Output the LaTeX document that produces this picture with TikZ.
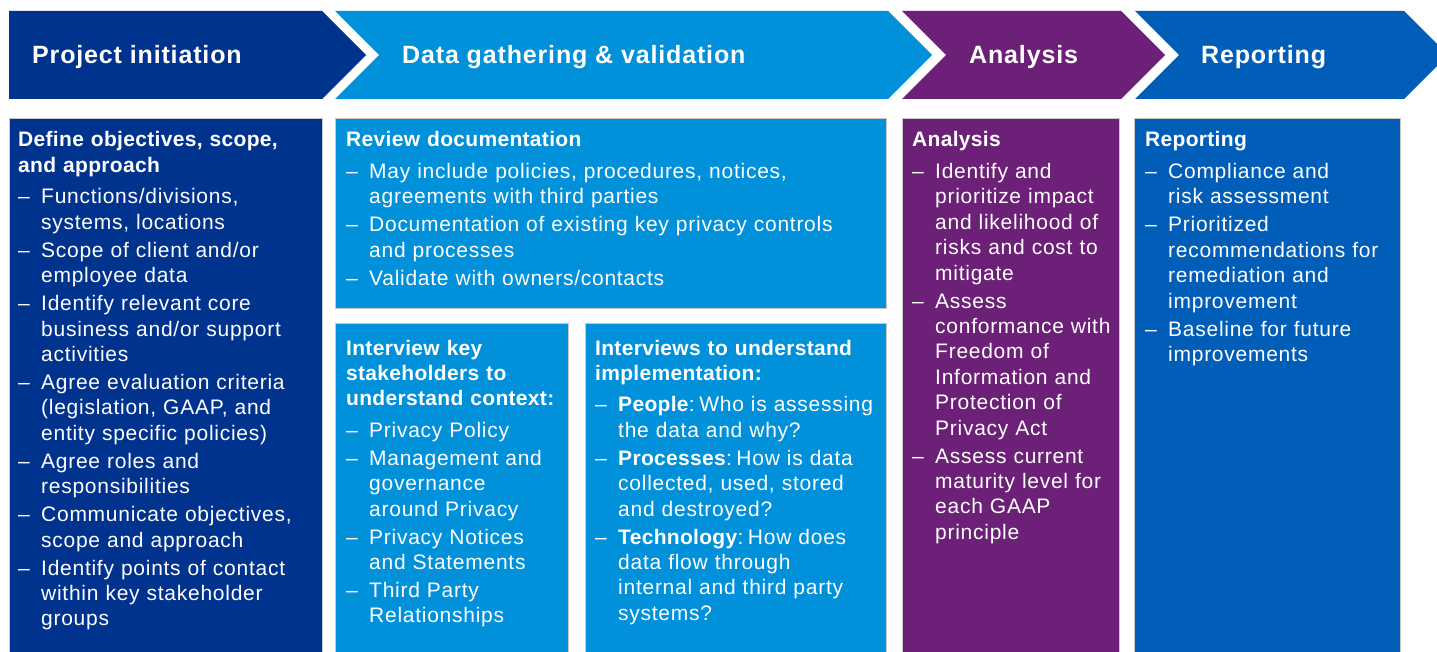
\documentclass[tikz,border=0pt]{standalone}
\usepackage{fontspec}
\setmainfont{Liberation Sans}[LetterSpace=3.5,BoldFeatures={LetterSpace=1.5}]
\newfontfamily\hdfont{Liberation Sans}[LetterSpace=3,BoldFeatures={LetterSpace=3.4}]
\definecolor{navy}{HTML}{00338D}
\definecolor{cyanb}{HTML}{0091DA}
\definecolor{purp}{HTML}{6D2077}
\definecolor{rblue}{HTML}{005EB8}
\newcommand{\nl}{\hfil\break}
\newcommand{\ttl}[1]{\noindent\textbf{#1}\par\vspace{3.5pt}}
\newcommand{\itm}[1]{\par\vspace{2.6pt}\noindent\hangindent=23pt\hangafter=1\makebox[23pt][l]{–}#1}
\newcommand{\lead}[1]{\textbf{#1}:\kern-2.5pt\ }
\tikzset{
  panel/.style={draw=black!22,line width=0.6pt},
  hdr/.style={anchor=base west,inner sep=0pt,text=white,font=\hdfont\bfseries\fontsize{25}{30}\selectfont},
  body/.style={anchor=base west,inner sep=0pt,text=white,text width=#1,
    font=\fontsize{21}{25.4}\selectfont},
}
\begin{document}
\begin{tikzpicture}[x=1pt,y=-1pt]
\useasboundingbox (0,0) rectangle (1437,652);
\fill[white] (0,0) rectangle (1437,652);
\begin{scope}
\clip (0,0) rectangle (1437,652);
% chevrons
\fill[navy]  (9,11) -- (322,11) -- (366,55) -- (322,99) -- (9,99) -- cycle;
\fill[cyanb] (335,11) -- (888,11) -- (932,55) -- (888,99) -- (335,99) -- (379,55) -- cycle;
\fill[purp]  (902,11) -- (1121,11) -- (1165,55) -- (1121,99) -- (902,99) -- (946,55) -- cycle;
\fill[rblue] (1135,11) -- (1404,11) -- (1448,55) -- (1404,99) -- (1135,99) -- (1179,55) -- cycle;
% panels
\filldraw[panel,fill=navy]  (9,118) rectangle (322,655);
\filldraw[panel,fill=cyanb] (335,118) rectangle (886,308);
\filldraw[panel,fill=cyanb] (335,323) rectangle (568,655);
\filldraw[panel,fill=cyanb] (585,323) rectangle (886,655);
\filldraw[panel,fill=purp]  (902,118) rectangle (1119,655);
\filldraw[panel,fill=rblue] (1134,118) rectangle (1400,655);
\end{scope}
% header labels
\node[hdr] (h1) at (32,64) {Project initiation};
\node[hdr] (h2) at (402,64) {Data gathering \& validation};
\node[hdr] (h3) at (969,64) {Analysis};
\node[hdr] (h4) at (1201,64) {Reporting};
% panel texts
\node[body=320pt] (t1) at (18,147) {\raggedright
\ttl{Define objectives, scope,\nl and approach}
\itm{Functions/divisions,\nl systems, locations}
\itm{Scope of client and/or\nl employee data}
\itm{Identify relevant core\nl business and/or support\nl activities}
\itm{Agree evaluation criteria\nl (legislation, GAAP, and\nl entity specific policies)}
\itm{Agree roles and\nl responsibilities}
\itm{Communicate objectives,\nl scope and approach}
\itm{Identify points of contact\nl within key stakeholder\nl groups}\par};
\node[body=560pt] (t2) at (346,147) {\raggedright
\ttl{Review documentation}
\itm{May include policies, procedures, notices,\nl agreements with third parties}
\itm{Documentation of existing key privacy controls\nl and processes}
\itm{Validate with owners/contacts}\par};
\node[body=250pt] (t3) at (346,355) {\raggedright
\ttl{Interview key\nl stakeholders to\nl understand context:}
\itm{Privacy Policy}
\itm{Management and\nl governance\nl around Privacy}
\itm{Privacy Notices\nl and Statements}
\itm{Third Party\nl Relationships}\par};
\node[body=320pt] (t4) at (595,355) {\raggedright
\ttl{Interviews to understand\nl implementation:}
\itm{\lead{People}Who is assessing\nl the data and why?}
\itm{\lead{Processes}How is data\nl collected, used, stored\nl and destroyed?}
\itm{\lead{Technology}How does\nl data flow through\nl internal and third party\nl systems?}\par};
\node[body=240pt] (t5) at (912,147) {\raggedright
\ttl{Analysis}
\itm{Identify and\nl prioritize impact\nl and likelihood of\nl risks and cost to\nl mitigate}
\itm{Assess\nl conformance with\nl Freedom of\nl Information and\nl Protection of\nl Privacy Act}
\itm{Assess current\nl maturity level for\nl each GAAP\nl principle}\par};
\node[body=290pt] (t6) at (1145,147) {\raggedright
\ttl{Reporting}
\itm{Compliance and\nl risk assessment}
\itm{Prioritized\nl recommendations for\nl remediation and\nl improvement}
\itm{Baseline for future\nl improvements}\par};
\end{tikzpicture}
\end{document}
